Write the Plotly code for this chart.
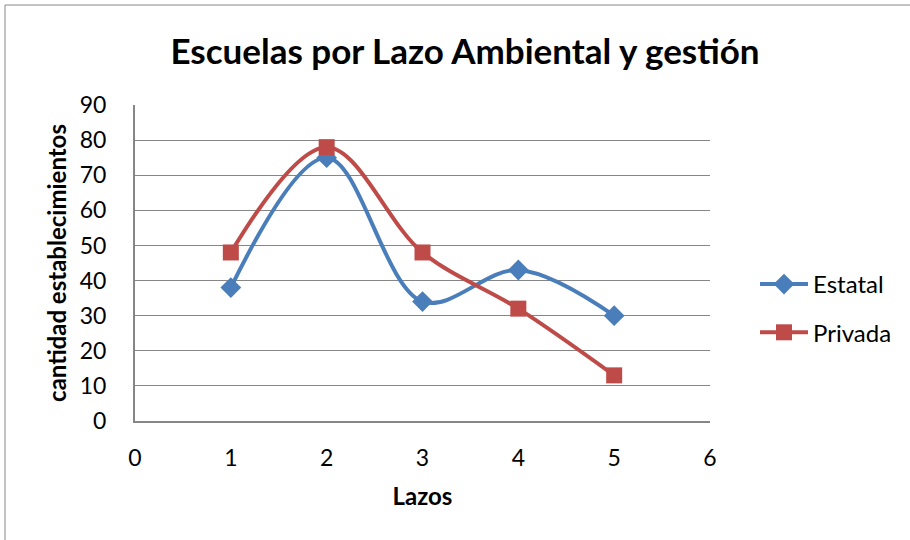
import plotly.graph_objects as go

lazos = [1, 2, 3, 4, 5]
estatal = [38, 75, 34, 43, 30]
privada = [48, 78, 48, 32, 13]
x_ticks = [0, 1, 2, 3, 4, 5, 6]
y_ticks = [0, 10, 20, 30, 40, 50, 60, 70, 80, 90]

FONT = "Lato, Open Sans, sans-serif"

fig = go.Figure()
fig.add_trace(go.Scatter(
    x=lazos, y=estatal, name="Estatal", mode="lines+markers", legendgroup="e",
    line=dict(color="#4A7EBB", width=4, shape="spline", smoothing=1),
    marker=dict(symbol="diamond", size=16, color="#4A7EBB"),
))
fig.add_trace(go.Scatter(
    x=lazos, y=privada, name="Privada", mode="lines+markers", legendgroup="p",
    line=dict(color="#BE4B48", width=4, shape="spline", smoothing=1),
    marker=dict(symbol="square", size=16, color="#BE4B48"),
))

W, H = 910, 540
PL, PR, PT, PB = 135, 710, 105, 421
L, T = PL, PT
R = W - PR
B = H - PB
pw, ph = W - L - R, H - T - B

fig.update_layout(
    width=W, height=H,
    margin=dict(l=L, r=R, t=T, b=B),
    paper_bgcolor="white", plot_bgcolor="white",
    font=dict(family=FONT, size=23, color="black"),
    title=dict(text="<b>Escuelas por Lazo Ambiental y gestión</b>",
               x=465 / W, xanchor="center", y=1 - 52 / H, yanchor="middle",
               font=dict(size=35, family=FONT)),
    xaxis=dict(range=[0, 6], tickvals=x_ticks, showgrid=False, zeroline=False,
               showline=True, linecolor="#868686", linewidth=2,
               ticks="", tickfont=dict(size=23), ticklabelstandoff=15,
               title=dict(text="<b>Lazos</b>", font=dict(size=24), standoff=19)),
    yaxis=dict(range=[0, 90], tickvals=y_ticks, showgrid=True, gridcolor="#868686",
               gridwidth=1, zeroline=False, showline=True, linecolor="#868686",
               linewidth=2, ticks="", tickfont=dict(size=23), ticklabelstandoff=22,
               title=dict(text="<b>cantidad establecimientos</b>", font=dict(size=24),
                          standoff=6)),
    legend=dict(x=(755 - PL) / pw, y=(PB - 262) / ph, xanchor="left", yanchor="top",
                font=dict(size=24), tracegroupgap=14, itemwidth=48,
                bgcolor="rgba(0,0,0,0)"),
    shapes=[dict(type="rect", xref="paper", yref="paper",
                 x0=(5 - PL) / pw, x1=3, y0=-3, y1=(PB - 5) / ph,
                 line=dict(color="#888888", width=1), layer="below")],
)

fig.write_html("out.html", config={"displayModeBar": False},
               post_script="document.body.style.margin='0';document.body.style.padding='0';")
